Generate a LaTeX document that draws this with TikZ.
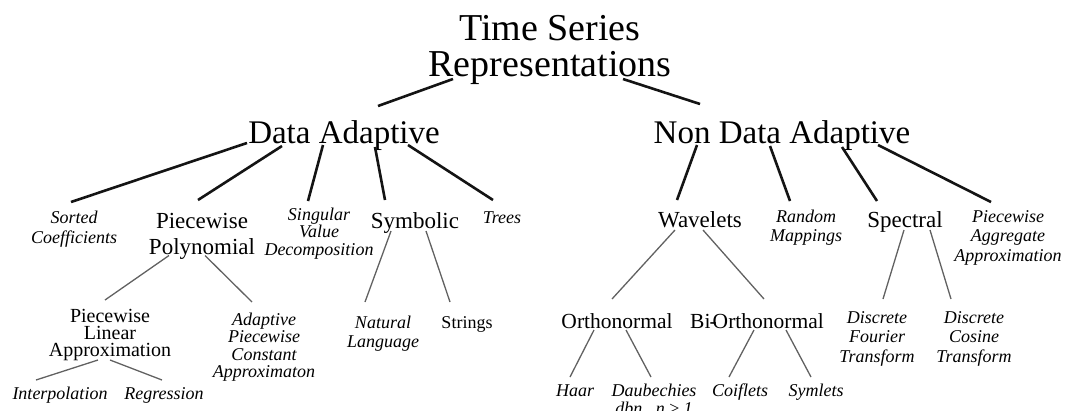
\documentclass[tikz,border=0pt]{standalone}
\usepackage{fontspec}
\setmainfont{Liberation Serif}
\usetikzlibrary{calc}
\begin{document}
\begin{tikzpicture}[x=1pt,y=-1pt,
  lbl/.style={inner sep=0pt, anchor=base, align=center, text=black},
  titlelbl/.style={lbl, font=\fontsize{38}{36}\selectfont},
  catlbl/.style={lbl, font=\fontsize{33}{36}\selectfont},
  sublbl/.style={lbl, font=\fontsize{23}{26}\selectfont},
  midlbl/.style={lbl, font=\fontsize{21.5}{24}\selectfont},
  pllbl/.style={lbl, font=\fontsize{20}{17}\selectfont},
  smalllbl/.style={lbl, font=\fontsize{18}{18}\selectfont},
  itlbl/.style={lbl, font=\fontsize{18}{18}\selectfont\itshape},
  major/.style={line width=2.6pt, black!92},
  minor/.style={line width=1.3pt, black!62}
]
\useasboundingbox (0,0) rectangle (1068,410);

% root and the two families (base = baseline of the last line)
\node[titlelbl] (ts) at (550,76) {Time Series\\Representations};
\node[catlbl] (da) at (344,143) {Data Adaptive};
\node[catlbl] (nda) at (782,143) {Non Data Adaptive};

% data adaptive branch
\node[itlbl, font=\fontsize{18}{20}\selectfont\itshape] (sc) at (74,243) {Sorted\\Coefficients};
\node[sublbl] (pp) at (202,254) {Piecewise\\Polynomial};
\node[itlbl, font=\fontsize{18}{17.5}\selectfont\itshape] (svd) at (319,255) {Singular\\Value\\Decomposition};
\node[sublbl] (sym) at (415,228) {Symbolic};
\node[itlbl] (trees) at (502,223) {Trees};

\node[pllbl] (pla) at (110,356) {Piecewise\\Linear\\Approximation};
\node[itlbl, font=\fontsize{18}{17.5}\selectfont\itshape] (apca) at (264,377.5) {Adaptive\\Piecewise\\Constant\\Approximaton};
\node[itlbl, font=\fontsize{18}{19}\selectfont\itshape] (nat) at (383,347) {Natural\\Language};
\node[smalllbl] (str) at (467,328) {Strings};
\node[itlbl] (interp) at (60,399) {Interpolation};
\node[itlbl] (regr) at (164,399) {Regression};

% non data adaptive branch
\node[sublbl] (wav) at (700,227) {Wavelets};
\node[itlbl, font=\fontsize{18}{19}\selectfont\itshape] (rm) at (806,241) {Random\\Mappings};
\node[sublbl] (spec) at (905,227) {Spectral};
\node[itlbl, font=\fontsize{18}{19.5}\selectfont\itshape] (paa) at (1008,261) {Piecewise\\Aggregate\\Approximation};

\node[midlbl] (orth) at (617,328) {Orthonormal};
\node[midlbl] (bio) at (757,328) {Bi\kern-1pt-\kern-4pt Orthonormal};
\node[itlbl, font=\fontsize{18}{19.5}\selectfont\itshape] (dft) at (877,362) {Discrete\\Fourier\\Transform};
\node[itlbl, font=\fontsize{18}{19.5}\selectfont\itshape] (dct) at (974,362) {Discrete\\Cosine\\Transform};

\node[itlbl] (haar) at (575,396) {Haar};
\node[itlbl, font=\fontsize{18}{18}\selectfont\itshape] (daub) at (654,414) {Daubechies\\dbn,\ \ n ≥ 1};
\node[itlbl] (coif) at (740,396) {Coiflets};
\node[itlbl] (syml) at (816,396) {Symlets};

% connectors: root to families
\draw[major] ($(ts.base)+(-97,3)$) -- ($(da.base)+(34,-37)$);
\draw[major] ($(ts.base)+(73,3)$) -- ($(nda.base)+(-82,-39)$);

% data adaptive to its children
\draw[major] ($(da.base)+(-97,0)$) -- ($(sc.base)+(-3,-41)$);
\draw[major] ($(da.base)+(-62,3)$) -- ($(pp.base)+(-4,-54)$);
\draw[major] ($(da.base)+(-21,2)$) -- ($(svd.base)+(-11,-54)$);
\draw[major] ($(da.base)+(31,4)$) -- ($(sym.base)+(-30,-28)$);
\draw[major] ($(da.base)+(64,2)$) -- ($(trees.base)+(-9,-23)$);

% non data adaptive to its children
\draw[major] ($(nda.base)+(-85,2)$) -- ($(wav.base)+(-23,-27)$);
\draw[major] ($(nda.base)+(-12,3)$) -- ($(rm.base)+(-16,-40)$);
\draw[major] ($(nda.base)+(60,4)$) -- ($(spec.base)+(-28,-26)$);
\draw[major] ($(nda.base)+(96,2)$) -- ($(paa.base)+(-17,-59)$);

% lower levels
\draw[minor] ($(pp.base)+(-33,1.5)$) -- ($(pla.base)+(-5,-56)$);
\draw[minor] ($(pp.base)+(3,1.5)$) -- ($(apca.base)+(-12,-75.5)$);
\draw[minor] ($(sym.base)+(-24,3)$) -- ($(nat.base)+(-18,-45)$);
\draw[minor] ($(sym.base)+(11,3)$) -- ($(str.base)+(-17,-26)$);
\draw[minor] ($(pla.base)+(-12,4)$) -- ($(interp.base)+(-24,-19)$);
\draw[minor] ($(pla.base)+(0,4)$) -- ($(regr.base)+(-2,-19)$);

\draw[minor] ($(wav.base)+(-25,3)$) -- ($(orth.base)+(-5,-29)$);
\draw[minor] ($(wav.base)+(3,3)$) -- ($(bio.base)+(7,-29)$);
\draw[minor] ($(spec.base)+(-1,3)$) -- ($(dft.base)+(6,-63)$);
\draw[minor] ($(spec.base)+(25,3)$) -- ($(dct.base)+(-23,-63)$);
\draw[minor] ($(orth.base)+(-23,2)$) -- ($(haar.base)+(-5,-19)$);
\draw[minor] ($(orth.base)+(9,2)$) -- ($(daub.base)+(-3,-37)$);
\draw[minor] ($(bio.base)+(-3,2)$) -- ($(coif.base)+(-11,-19)$);
\draw[minor] ($(bio.base)+(29,2)$) -- ($(syml.base)+(-5,-19)$);
\end{tikzpicture}
\end{document}
